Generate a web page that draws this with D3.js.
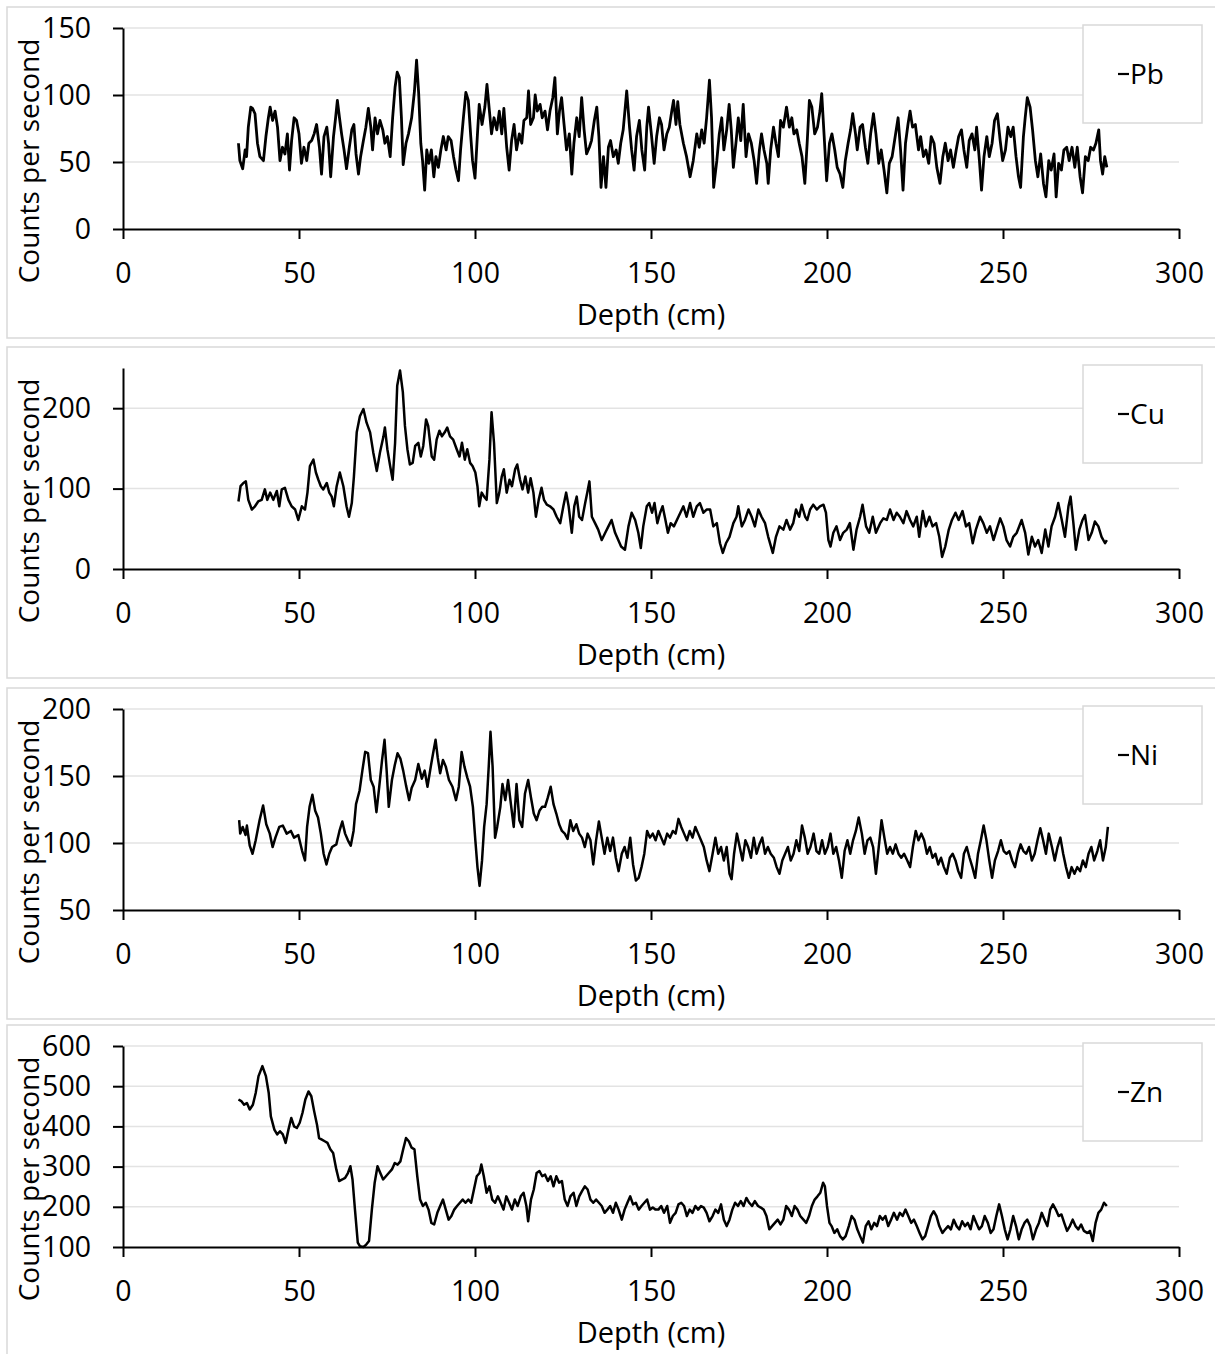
<!DOCTYPE html>
<html><head><meta charset="utf-8">
<script src="https://cdn.jsdelivr.net/npm/d3@7"></script>
<style>
body{margin:0;background:#fff}
svg{display:block}
text{font-family:"Open Sans",sans-serif;fill:#000}
</style>
</head><body>
<svg id="chart" width="1215" height="1354"></svg>
<script>
// ---------- data ----------
const xTickValues = [0, 50, 100, 150, 200, 250, 300];
const xTitle = "Depth (cm)";
const yTitle = "Counts per second";
const elements = ["Pb", "Cu", "Ni", "Zn"];

const pbTicks = [0, 50, 100, 150];
const cuTicks = [0, 100, 200];
const niTicks = [50, 100, 150, 200];
const znTicks = [100, 200, 300, 400, 500, 600];

const pbDepth = [32.8,33.2,34.0,34.7,35.1,35.6,36.3,36.8,37.5,38.2,38.9,39.9,40.6,41.3,41.8,42.5,43.2,43.9,44.6,45.3,46.0,46.7,47.3,47.9,48.6,49.3,50.0,50.7,51.4,52.2,52.8,53.6,54.3,55.0,55.8,56.4,57.1,57.9,58.4,59.0,59.8,60.4,60.9,61.5,62.1,62.8,63.5,64.3,65.0,65.6,66.2,66.9,67.5,68.3,69.0,69.7,70.4,70.9,71.6,72.3,73.0,73.8,74.4,75.1,75.9,76.6,77.3,77.9,78.5,79.1,79.6,80.4,81.1,82.0,82.8,83.4,84.0,84.6,85.1,85.7,86.3,86.9,87.6,88.3,88.9,89.6,90.3,91.0,91.8,92.4,93.2,93.9,94.6,95.3,95.9,96.7,97.4,98.1,98.8,99.3,100.0,100.7,101.2,102.0,102.8,103.4,104.1,104.7,105.4,106.2,106.9,107.6,108.2,109.0,109.7,110.4,111.1,111.8,112.6,113.3,113.9,114.7,115.2,115.8,116.6,117.1,117.7,118.5,119.1,119.9,120.6,121.3,122.1,122.7,123.4,124.0,124.6,125.3,126.0,126.8,127.5,128.1,128.9,129.6,130.3,131.0,131.7,132.5,133.1,133.9,134.6,135.2,135.8,136.5,137.2,137.9,138.5,139.3,140.1,140.7,141.4,142.1,143.1,143.9,144.5,145.2,145.9,146.7,147.4,148.2,148.8,149.3,150.1,150.9,151.6,152.4,153.0,153.7,154.5,155.2,155.9,156.4,157.1,157.6,158.2,159.2,160.1,161.1,162.0,163.0,163.7,164.4,165.1,165.8,166.6,167.2,167.8,168.7,169.4,170.1,170.7,171.5,172.2,172.8,173.4,174.2,174.8,175.5,176.2,177.0,177.7,178.5,179.3,180.0,180.8,181.4,182.1,182.9,183.3,184.0,184.8,185.5,186.2,186.8,187.6,188.5,189.3,190.0,190.6,191.4,192.1,192.9,193.7,194.4,195.0,195.7,196.5,197.3,198.0,198.5,199.2,199.9,200.7,201.4,202.2,202.9,203.7,204.5,205.2,206.0,206.7,207.3,208.1,208.6,209.4,210.1,210.9,211.6,212.4,213.2,213.9,214.7,215.4,216.2,217.0,217.7,218.5,219.2,220.2,220.9,221.6,222.3,223.0,223.6,224.3,225.1,226.0,226.6,227.4,228.1,228.9,229.6,230.4,231.2,232.1,232.9,233.6,234.4,235.1,235.9,236.7,237.4,238.2,238.9,239.7,240.4,241.2,242.0,242.5,243.3,243.9,244.6,245.4,246.1,246.9,247.6,248.4,249.2,249.9,250.7,251.4,252.2,252.9,253.7,254.4,255.0,255.8,256.3,256.9,257.7,258.4,259.2,259.9,260.7,261.5,262.2,263.0,263.7,264.5,265.1,265.8,266.6,267.3,268.1,268.8,269.6,270.4,271.1,271.9,272.6,273.4,274.2,274.9,275.7,276.4,277.2,277.7,278.3,278.9,279.5];
const pbCps = [64,51,45,59,54,76,91,90,86,64,54,51,69,83,91,81,88,76,51,61,56,71,44,66,83,81,71,49,61,51,64,66,71,78,61,41,69,76,64,39,69,83,96,83,71,59,45,61,74,78,56,41,54,66,76,90,76,59,83,71,81,74,64,69,54,83,106,117,113,83,48,64,71,83,103,126,101,64,51,29,59,49,59,39,54,46,59,69,59,69,66,54,44,36,59,83,102,96,69,51,38,71,93,78,91,108,88,71,83,74,88,71,90,61,44,66,78,59,71,64,81,83,103,78,83,100,88,93,83,88,74,88,98,113,71,88,98,78,59,71,41,64,83,69,98,74,56,61,66,81,91,69,31,54,31,61,66,54,59,49,64,74,103,76,59,44,69,81,59,44,76,91,71,49,69,83,78,59,71,76,88,96,78,95,78,64,54,39,51,71,61,74,64,83,111,83,31,51,71,83,59,74,93,74,46,66,83,66,93,54,71,64,51,34,59,71,59,49,34,59,76,64,54,81,76,91,76,83,71,74,64,54,34,66,96,91,71,76,88,101,69,36,64,71,59,46,41,31,51,64,74,86,71,59,76,78,61,49,71,86,71,49,59,44,27,49,54,66,83,59,29,64,78,88,76,78,59,69,54,59,49,69,64,46,34,54,64,51,59,46,59,69,74,59,46,66,71,59,76,51,29,54,69,54,64,81,86,66,51,59,76,69,76,54,39,31,69,83,98,91,74,51,39,56,34,24,51,44,56,24,49,44,59,61,51,61,46,61,39,27,54,51,61,59,64,74,51,41,54,46];

const cuDepth = [32.8,33.4,34.2,34.9,35.6,36.6,37.5,38.4,39.4,40.3,41.0,41.8,42.7,43.7,44.4,45.1,46.0,47.0,47.9,48.9,49.8,50.8,51.7,52.4,53.1,54.1,54.8,55.5,56.2,56.9,57.9,58.6,59.3,59.9,60.7,61.6,62.6,63.5,64.2,65.0,65.6,66.4,67.3,68.3,69.2,70.2,71.1,72.1,73.0,74.0,74.4,75.1,75.9,76.6,77.3,77.9,78.7,79.5,80.1,80.8,81.5,82.3,83.0,83.9,84.6,85.3,86.1,86.7,87.7,88.4,89.1,89.9,90.6,91.4,92.1,92.9,93.8,94.8,95.6,96.3,97.1,97.8,98.6,99.3,100.1,100.7,101.2,101.9,102.6,103.3,104.1,104.7,105.4,106.2,106.9,107.6,108.2,109.0,109.8,110.5,111.4,112.0,112.8,113.5,114.3,115.1,115.8,116.6,117.3,118.1,118.9,119.6,120.4,121.3,122.3,123.2,124.2,125.1,125.9,126.6,127.5,128.2,128.9,129.6,130.4,131.3,131.9,132.5,133.2,134.1,135.0,136.0,137.0,137.9,138.8,139.8,140.7,141.5,142.6,143.6,144.5,145.5,146.4,147.1,147.8,148.8,149.5,150.3,151.0,151.8,152.6,153.3,154.1,154.8,155.6,156.5,157.8,159.2,160.1,161.1,162.0,163.0,163.9,164.9,165.8,166.8,167.7,168.7,169.6,170.4,171.3,172.3,173.4,174.3,174.8,175.8,176.7,177.7,178.6,179.5,180.5,181.4,182.4,183.3,184.6,185.5,186.5,187.6,188.5,189.5,190.4,191.2,192.1,192.8,193.8,194.4,195.2,196.1,197.1,198.0,199.0,199.7,200.4,201.0,201.8,202.7,203.7,204.6,205.6,206.5,207.5,208.4,209.4,210.1,211.1,212.0,213.0,213.9,215.1,216.0,217.0,217.9,218.9,219.8,220.7,221.7,222.6,223.6,224.5,225.5,226.2,227.2,228.1,229.1,230.0,231.0,231.9,232.7,233.6,234.6,235.5,236.5,237.4,238.5,239.5,240.4,241.4,242.3,243.5,244.4,245.4,246.3,247.3,248.2,249.2,250.1,251.0,252.0,252.9,253.9,255.3,256.3,257.2,258.2,259.1,260.0,261.0,262.0,262.9,263.8,264.8,265.7,266.7,267.6,268.6,269.2,270.0,270.7,271.7,272.6,273.3,274.3,275.2,276.1,277.1,278.0,279.0,279.5];
const cuCps = [84,103,107,109,86,74,78,84,86,99,86,95,86,97,78,99,101,86,78,74,61,78,74,95,128,136,120,111,103,99,107,95,90,78,103,120,103,78,65,82,115,170,190,199,182,170,145,122,145,165,176,149,128,111,157,228,247,220,178,149,130,132,153,157,140,153,186,178,140,136,161,172,165,170,176,165,161,149,140,157,136,149,132,128,120,103,78,95,90,86,136,195,157,82,95,115,124,95,111,103,124,130,111,99,115,95,113,95,65,86,101,86,80,78,74,65,57,78,95,78,45,78,90,65,61,82,95,109,65,57,49,36,45,53,61,45,36,28,24,53,70,61,45,26,53,78,82,70,82,57,70,78,61,45,57,53,65,78,65,82,65,78,82,70,74,74,53,57,32,20,32,40,57,65,78,53,61,74,65,53,74,65,57,40,20,40,53,49,61,49,57,74,65,80,65,61,74,80,74,78,80,70,36,28,45,53,36,45,49,57,24,49,65,80,53,45,65,45,57,63,61,74,61,70,65,57,72,61,53,65,40,72,53,65,53,57,40,15,28,49,61,70,61,72,53,57,32,49,65,57,45,53,36,49,63,53,36,28,40,45,61,45,18,40,28,36,20,49,28,53,65,82,61,40,78,90,57,24,49,61,67,36,45,59,53,40,32,36];

const niDepth = [33.0,33.3,34.0,34.8,35.2,36.0,36.8,37.7,38.8,39.8,40.7,41.7,42.5,43.3,44.4,45.4,46.5,47.7,48.6,49.8,50.9,51.7,52.3,53.0,53.8,54.6,55.4,56.2,57.0,57.8,58.6,59.4,60.6,61.5,62.3,63.1,63.9,64.7,65.5,66.2,67.2,68.0,68.8,69.6,70.4,71.2,72.0,72.8,73.6,74.3,74.9,75.5,76.4,77.2,78.0,78.8,79.6,80.4,81.3,82.0,83.0,83.9,84.9,85.7,86.5,87.5,88.1,88.8,89.4,90.1,90.9,91.7,92.6,93.6,94.6,95.4,96.2,97.0,97.8,98.6,99.4,100.1,100.7,101.3,102.0,102.6,103.3,103.9,104.4,105.0,105.7,106.3,107.2,107.8,108.6,109.4,110.2,111.0,111.8,112.6,113.4,114.2,115.1,115.9,116.7,117.5,118.3,119.1,119.9,120.7,121.5,122.3,123.1,123.9,124.7,125.5,126.3,127.1,127.9,128.8,129.6,130.4,131.2,132.0,132.8,133.6,134.4,135.2,136.0,136.8,137.6,138.4,139.2,140.0,140.8,141.7,142.5,143.3,144.1,144.9,145.7,146.5,147.3,148.1,148.9,149.7,150.5,151.3,152.1,152.9,153.7,154.6,155.4,156.2,157.0,157.8,158.6,159.4,160.2,161.0,161.8,162.6,163.4,164.2,165.0,165.8,166.6,167.5,168.3,169.1,169.9,170.7,171.5,172.3,172.9,173.6,174.4,175.2,176.0,176.8,177.6,178.4,179.2,180.0,180.8,181.6,182.4,183.2,184.0,184.9,185.7,186.5,187.3,188.1,188.9,189.7,190.5,191.3,192.1,192.9,193.7,194.5,195.3,196.2,197.0,197.8,198.6,199.4,200.2,201.0,201.8,202.6,203.4,204.2,205.0,205.8,206.6,207.4,208.2,209.0,209.9,210.7,211.5,212.3,213.1,213.9,214.7,215.5,216.3,217.1,217.9,218.7,219.5,220.3,221.1,221.9,222.8,223.6,224.4,225.2,226.0,226.8,227.6,228.4,229.2,230.0,230.8,231.6,232.4,233.2,234.0,234.9,235.7,236.5,237.3,238.1,238.9,239.7,240.5,241.3,242.1,242.9,243.7,244.5,245.3,246.1,246.9,247.7,248.6,249.4,250.2,251.0,251.8,252.6,253.4,254.2,255.0,255.8,256.6,257.4,258.2,259.0,259.8,260.6,261.4,262.2,263.0,263.9,264.7,265.5,266.3,267.1,267.9,268.7,269.5,270.3,271.1,271.9,272.7,273.5,274.3,275.1,275.9,276.8,277.6,278.4,279.2,279.8];
const niCps = [117,107,112,106,113,98,92,102,117,128,114,107,97,104,112,113,107,109,104,106,94,87,112,127,136,124,119,107,92,84,92,97,99,109,116,107,102,98,109,129,139,154,168,167,147,142,123,142,162,177,154,127,147,158,167,163,154,143,132,141,147,159,148,154,142,158,167,177,164,152,162,157,147,142,132,142,168,157,149,142,127,102,82,68,87,112,129,157,183,157,104,112,127,144,132,147,129,112,144,117,112,137,147,134,122,117,124,127,127,134,142,129,122,114,109,107,103,117,109,114,107,104,97,107,102,84,102,116,104,92,104,94,104,89,79,92,97,89,104,84,72,74,82,92,109,104,107,102,109,104,99,107,104,109,107,118,112,107,102,109,104,112,107,102,97,87,79,92,104,92,97,87,97,77,73,92,107,97,87,102,97,89,104,92,99,104,92,97,92,89,82,77,87,92,97,87,92,102,94,113,104,92,97,107,94,92,102,92,97,107,92,97,87,74,94,102,92,102,109,119,107,92,102,104,97,77,97,117,104,92,97,92,99,92,89,92,87,82,97,109,102,107,102,92,97,89,92,84,89,82,77,89,92,87,79,74,92,97,89,82,74,92,102,113,102,87,74,87,94,102,94,92,94,87,82,92,99,94,92,97,87,92,102,111,102,92,107,97,87,97,104,92,82,74,82,77,82,79,87,82,92,97,87,94,102,87,97,112];

const znDepth = [32.8,33.6,34.4,35.2,36.0,36.9,37.7,38.5,39.6,40.6,41.4,42.0,43.0,43.8,44.6,45.4,46.2,47.0,47.8,48.6,49.4,50.2,51.0,51.8,52.7,53.5,54.3,55.1,55.7,56.5,57.3,58.1,58.9,59.7,60.6,61.4,62.3,63.1,63.9,64.6,65.2,65.9,66.7,67.3,68.3,69.1,69.9,70.7,71.5,72.3,73.1,73.9,74.7,75.5,76.4,77.2,78.0,78.8,79.6,80.4,81.2,82.0,82.8,83.6,84.4,85.2,86.0,86.8,87.6,88.4,89.3,90.1,90.9,91.7,92.5,93.3,94.1,94.9,95.7,96.5,97.3,98.1,98.9,99.7,100.5,101.3,101.8,102.5,103.3,104.1,104.9,105.7,106.5,107.3,108.1,108.9,109.7,110.5,111.3,112.1,113.0,113.8,114.6,115.1,115.9,116.7,117.5,118.3,119.1,119.9,120.7,121.5,122.3,123.1,123.9,124.7,125.5,126.3,127.1,128.0,128.8,129.6,130.4,131.2,132.0,132.8,133.6,134.4,135.2,136.0,136.8,137.6,138.4,139.2,140.0,140.8,141.7,142.5,143.3,144.1,144.9,145.7,146.5,147.3,148.1,148.9,149.7,150.5,151.3,152.1,152.9,153.7,154.6,155.4,156.2,157.0,157.8,158.6,159.4,160.2,161.0,161.8,162.6,163.4,164.2,165.0,165.8,166.6,167.5,168.3,169.1,169.9,170.7,171.5,172.3,173.1,173.9,174.7,175.5,176.3,177.1,177.9,178.7,179.5,180.4,181.2,182.0,182.8,183.6,184.4,185.2,186.0,186.8,187.6,188.4,189.2,190.0,190.8,191.6,192.4,193.3,194.1,194.9,195.7,196.5,197.3,198.1,198.9,199.4,200.0,200.7,201.3,202.1,202.9,203.7,204.5,205.3,206.2,207.0,207.8,208.6,209.4,210.2,211.0,211.8,212.6,213.4,214.2,215.0,215.8,216.6,217.4,218.2,219.0,219.9,220.7,221.5,222.3,223.1,223.9,224.7,225.5,226.3,227.1,227.9,228.7,229.5,230.3,231.1,231.9,232.8,233.6,234.4,235.2,236.0,236.8,237.6,238.4,239.2,240.0,240.8,241.6,242.4,243.2,244.0,244.8,245.7,246.5,247.3,248.1,248.9,249.7,250.5,251.3,252.1,252.9,253.7,254.5,255.3,256.1,256.9,257.7,258.5,259.4,260.2,261.0,261.8,262.6,263.4,264.2,265.0,265.8,266.6,267.4,268.2,269.0,269.8,270.6,271.4,272.2,273.0,273.9,274.7,275.5,276.3,277.1,277.9,278.7,279.5];
const znCps = [467,463,454,458,442,454,483,525,550,525,483,425,392,380,388,380,359,392,421,400,396,409,434,467,487,475,438,405,371,367,363,359,343,334,293,264,268,272,284,301,268,193,111,102,100,106,115,193,260,301,284,268,276,284,293,309,305,313,343,371,363,347,343,276,218,202,210,193,160,156,185,202,218,193,168,177,193,202,210,218,210,218,210,243,276,284,305,276,235,251,218,210,226,210,193,226,210,193,218,202,226,235,202,164,218,243,284,289,276,280,264,276,251,276,260,264,218,202,226,235,202,226,239,251,243,218,210,218,210,202,185,193,202,185,210,193,168,193,210,226,206,210,193,202,210,218,193,198,193,193,202,185,202,160,177,185,206,210,202,177,193,185,202,193,202,198,185,164,177,193,185,206,168,152,168,193,210,202,214,202,222,210,202,214,202,198,193,177,144,152,160,168,156,168,202,193,177,202,193,177,168,160,177,202,218,226,235,260,251,202,160,152,135,144,127,119,127,152,177,168,144,127,111,152,164,144,160,152,177,168,177,152,168,185,168,185,177,193,177,160,168,152,135,119,127,152,177,189,177,152,135,144,152,144,168,152,144,164,152,160,144,177,160,144,152,177,160,135,144,177,206,177,144,119,144,177,152,119,144,160,168,152,119,144,160,185,168,152,193,206,193,177,181,160,140,152,168,152,144,156,140,135,140,115,160,185,193,210,202];

// ---------- layout ----------
const W = 1215, H = 1354;
const panelTops = [7, 347, 688, 1025];
const panelHeight = 331;
const plotLeft = 123, plotRight = 1179, plotBottom = 222, plotTop = 21;

const panels = [
  {name: elements[0], depth: pbDepth, cps: pbCps, domain: [0, 150], ticks: pbTicks, lw: 2.8},
  {name: elements[1], depth: cuDepth, cps: cuCps, domain: [0, 250], ticks: cuTicks, lw: 2.5},
  {name: elements[2], depth: niDepth, cps: niCps, domain: [50, 200], ticks: niTicks, lw: 2.5},
  {name: elements[3], depth: znDepth, cps: znCps, domain: [100, 600], ticks: znTicks, lw: 2.5}
];

const svg = d3.select("#chart");
svg.append("rect").attr("width", W).attr("height", H).attr("fill", "#fff");

const x = d3.scaleLinear().domain([0, 300]).range([plotLeft, plotRight]);

panels.forEach((p, i) => {
  const top = panelTops[i];
  const g = svg.append("g").attr("transform", `translate(0,${top})`);
  g.append("rect").attr("x", 7).attr("y", 0).attr("width", 1214).attr("height", panelHeight)
    .attr("fill", "#fff").attr("stroke", "#d9d9d9").attr("stroke-width", 1.5);

  const y = d3.scaleLinear().domain(p.domain).range([plotBottom, plotTop]);

  // gridlines
  g.append("g").selectAll("line").data(p.ticks.filter(t => t !== p.domain[0])).join("line")
    .attr("x1", plotLeft).attr("x2", plotRight)
    .attr("y1", d => y(d)).attr("y2", d => y(d))
    .attr("stroke", "#e3e3e3").attr("stroke-width", 1.5);

  // data line
  const pts = p.depth.map((d, k) => [d, p.cps[k]]);
  const line = d3.line().x(d => x(d[0])).y(d => y(d[1]));
  g.append("path").datum(pts).attr("d", line)
    .attr("fill", "none").attr("stroke", "#000").attr("stroke-width", p.lw)
    .attr("stroke-linejoin", "round");

  // x axis
  const xa = g.append("g").attr("transform", `translate(0,${plotBottom})`)
    .call(d3.axisBottom(x).tickValues(xTickValues).tickSize(10).tickSizeOuter(0).tickPadding(24));
  // y axis
  const ya = g.append("g").attr("transform", `translate(${plotLeft},0)`)
    .call(d3.axisLeft(y).tickValues(p.ticks).tickSize(10).tickSizeOuter(0).tickPadding(22));
  [xa, ya].forEach(a => {
    a.select(".domain").attr("stroke", "#000").attr("stroke-width", 2);
    a.selectAll(".tick line").attr("stroke", "#000").attr("stroke-width", 2);
    a.selectAll(".tick text").attr("font-size", 28.5).attr("font-family", '"Open Sans",sans-serif').attr("fill", "#000");
  });

  // axis titles
  g.append("text").attr("x", (plotLeft + plotRight) / 2).attr("y", 318)
    .attr("text-anchor", "middle").attr("font-size", 29).text(xTitle);
  g.append("text").attr("transform", `translate(39,154) rotate(-90)`)
    .attr("text-anchor", "middle").attr("font-size", 28).text(yTitle);

  // legend
  const lg = g.append("g");
  lg.append("rect").attr("x", 1083).attr("y", 18).attr("width", 119).attr("height", 98)
    .attr("fill", "#fff").attr("stroke", "#d9d9d9").attr("stroke-width", 1.5);
  lg.append("line").attr("x1", 1118).attr("x2", 1129).attr("y1", 67).attr("y2", 67)
    .attr("stroke", "#000").attr("stroke-width", 2.2);
  lg.append("text").attr("x", 1130).attr("y", 77).attr("font-size", 28).text(p.name);
});
</script>
</body></html>
